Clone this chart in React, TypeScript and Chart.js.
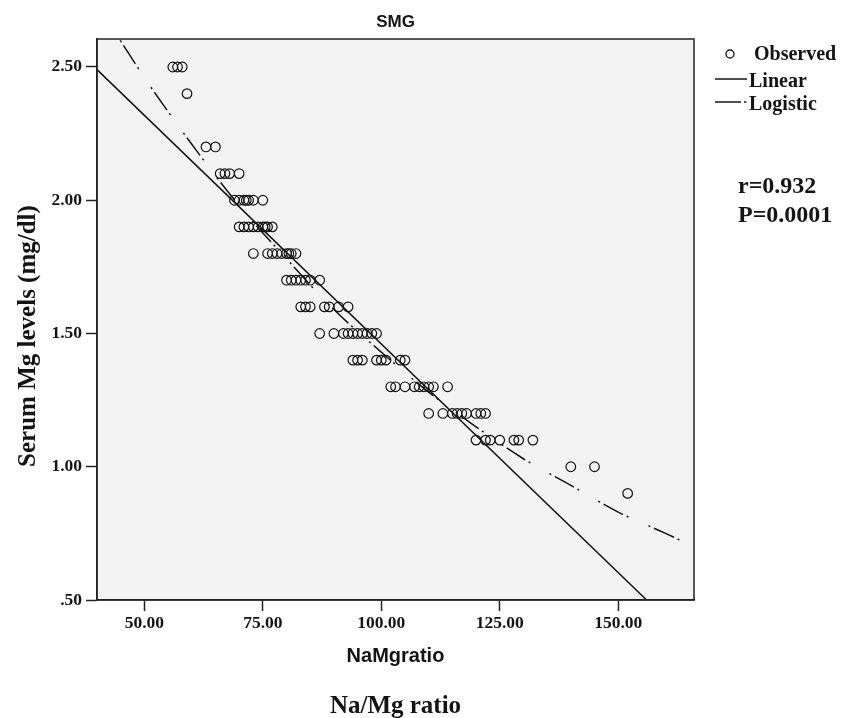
import React, { useEffect, useRef } from "react";
import { Chart, registerables } from "chart.js";

Chart.register(...registerables);

// Observed points: NaMg ratio (x) and serum Mg level (y)
const obsX = [
  56, 57, 58,
  59,
  63, 65,
  66, 67, 68, 70,
  69, 70, 71, 71.5, 72, 73, 75,
  70, 71, 72, 73, 74, 75, 75.5, 76, 77,
  73, 76, 77, 78, 79, 80, 80.5, 81, 82,
  80, 81, 82, 83, 84, 85, 87,
  83, 84, 85, 88, 89, 91, 93,
  87, 90, 92, 93, 94, 95, 96, 97, 98, 99,
  94, 95, 96, 99, 100, 101, 104, 105,
  102, 103, 105, 107, 108, 109, 110, 111, 114,
  110, 113, 115, 116, 117, 118, 120, 121, 122,
  120, 122, 123, 125, 128, 129, 132,
  140, 145,
  152,
];
const obsY = [
  2.5, 2.5, 2.5,
  2.4,
  2.2, 2.2,
  2.1, 2.1, 2.1, 2.1,
  2.0, 2.0, 2.0, 2.0, 2.0, 2.0, 2.0,
  1.9, 1.9, 1.9, 1.9, 1.9, 1.9, 1.9, 1.9, 1.9,
  1.8, 1.8, 1.8, 1.8, 1.8, 1.8, 1.8, 1.8, 1.8,
  1.7, 1.7, 1.7, 1.7, 1.7, 1.7, 1.7,
  1.6, 1.6, 1.6, 1.6, 1.6, 1.6, 1.6,
  1.5, 1.5, 1.5, 1.5, 1.5, 1.5, 1.5, 1.5, 1.5, 1.5,
  1.4, 1.4, 1.4, 1.4, 1.4, 1.4, 1.4, 1.4,
  1.3, 1.3, 1.3, 1.3, 1.3, 1.3, 1.3, 1.3, 1.3,
  1.2, 1.2, 1.2, 1.2, 1.2, 1.2, 1.2, 1.2, 1.2,
  1.1, 1.1, 1.1, 1.1, 1.1, 1.1, 1.1,
  1.0, 1.0,
  0.9,
];

// Linear fit line (end points inside the plot)
const linX = [40, 156];
const linY = [2.49, 0.5];

// Logistic fit curve
const logX = [44.9, 50, 60, 70, 80, 90, 100, 110, 120, 130, 140, 150, 160, 166];
const logY = [2.6, 2.46, 2.21, 1.98, 1.78, 1.59, 1.43, 1.28, 1.15, 1.03, 0.93, 0.83, 0.75, 0.7];

const xTicks = [50, 75, 100, 125, 150];
const yTicks = [0.5, 1.0, 1.5, 2.0, 2.5];

const titleText = "SMG";
const xTitle = "NaMgratio";
const xTitle2 = "Na/Mg ratio";
const yTitle = "Serum Mg levels (mg/dl)";
const legendLabels = ["Observed", "Linear", "Logistic"];
const statLines = ["r=0.932", "P=0.0001"];

const INK = "#141414";
const SERIF = "'Liberation Serif', 'Times New Roman', serif";
const SANS = "'Liberation Sans', Arial, sans-serif";
const LOG_DASH = [2, 4, 22, 4, 2, 22];

const decorPlugin = {
  id: "decor",
  beforeDraw(chart: any) {
    const { ctx, chartArea } = chart;
    const { left, top, right, bottom } = chartArea;
    ctx.save();
    ctx.fillStyle = "#ffffff";
    ctx.fillRect(0, 0, chart.width, chart.height);
    ctx.fillStyle = "#f3f3f3";
    ctx.fillRect(left, top, right - left, bottom - top);
    ctx.restore();
  },
  afterDraw(chart: any) {
    const { ctx, chartArea } = chart;
    const { left, top, right, bottom } = chartArea;
    const cx = (left + right) / 2;
    ctx.save();
    // frame
    ctx.strokeStyle = "#222";
    ctx.lineWidth = 1.5;
    ctx.strokeRect(left, top, right - left, bottom - top);

    ctx.fillStyle = INK;
    ctx.textAlign = "center";
    ctx.textBaseline = "alphabetic";
    // title
    ctx.font = `bold 17px ${SANS}`;
    ctx.fillText(titleText, cx, 27);
    // x titles
    ctx.font = `bold 20px ${SANS}`;
    ctx.fillText(xTitle, cx, 662);
    ctx.font = `bold 25px ${SERIF}`;
    ctx.fillText(xTitle2, cx, 713);
    // y title
    ctx.save();
    ctx.translate(35, 336);
    ctx.rotate(-Math.PI / 2);
    ctx.font = `bold 25px ${SERIF}`;
    ctx.fillText(yTitle, 0, 0);
    ctx.restore();

    // legend
    ctx.textAlign = "left";
    ctx.font = `bold 20px ${SERIF}`;
    ctx.strokeStyle = INK;
    ctx.lineWidth = 1.3;
    ctx.beginPath();
    ctx.arc(730, 54, 4, 0, Math.PI * 2);
    ctx.stroke();
    ctx.fillText(legendLabels[0], 754, 60);

    ctx.lineWidth = 1.5;
    ctx.beginPath();
    ctx.moveTo(715, 79);
    ctx.lineTo(747, 79);
    ctx.stroke();
    ctx.fillText(legendLabels[1], 749, 87);

    ctx.beginPath();
    ctx.moveTo(715, 102);
    ctx.lineTo(741, 102);
    ctx.stroke();
    ctx.beginPath();
    ctx.moveTo(744, 102);
    ctx.lineTo(746.5, 102);
    ctx.stroke();
    ctx.fillText(legendLabels[2], 749, 110);

    // stats
    ctx.font = `bold 24px ${SERIF}`;
    ctx.fillText(statLines[0], 738, 193);
    ctx.fillText(statLines[1], 738, 222);
    ctx.restore();
  },
};

function fmtY(v: number) {
  const s = v.toFixed(2);
  return s.startsWith("0") ? s.slice(1) : s;
}

export default function App() {
  const ref = useRef<HTMLCanvasElement | null>(null);

  useEffect(() => {
    if (!ref.current) return;
    const tickFont = { family: SERIF, weight: "bold" as const, size: 17.5 };
    const chart = new Chart(ref.current, {
      type: "scatter",
      data: {
        datasets: [
          {
            label: "Observed",
            data: obsX.map((x, i) => ({ x, y: obsY[i] })),
            pointStyle: "circle",
            pointRadius: 4.8,
            pointBorderWidth: 1.2,
            pointBorderColor: INK,
            pointBackgroundColor: "rgba(0,0,0,0)",
            showLine: false,
          },
          {
            label: "Linear",
            data: linX.map((x, i) => ({ x, y: linY[i] })),
            showLine: true,
            borderColor: INK,
            borderWidth: 1.5,
            pointRadius: 0,
          },
          {
            label: "Logistic",
            data: logX.map((x, i) => ({ x, y: logY[i] })),
            showLine: true,
            borderColor: INK,
            borderWidth: 1.5,
            borderDash: LOG_DASH,
            cubicInterpolationMode: "monotone",
            pointRadius: 0,
          },
        ],
      },
      options: {
        responsive: false,
        animation: false,
        events: [],
        layout: { padding: { left: 0, top: 39, right: 162, bottom: 0 } },
        plugins: {
          legend: { display: false },
          title: { display: false },
          tooltip: { enabled: false },
        },
        scales: {
          x: {
            type: "linear",
            min: 40,
            max: 166,
            afterFit(scale: any) {
              scale.height = 118;
            },
            afterBuildTicks(scale: any) {
              scale.ticks = xTicks.map((v) => ({ value: v }));
            },
            ticks: {
              color: INK,
              font: tickFont,
              padding: 2,
              maxRotation: 0,
              callback: (v: any) => Number(v).toFixed(2),
            },
            grid: {
              drawOnChartArea: false,
              drawTicks: true,
              tickLength: 11,
              tickColor: "#222",
              tickWidth: 1.5,
            },
            border: { display: true, color: "#222", width: 1.5 },
          },
          y: {
            type: "linear",
            min: 0.5,
            max: 2.605,
            afterFit(scale: any) {
              scale.width = 97;
            },
            afterBuildTicks(scale: any) {
              scale.ticks = yTicks.map((v) => ({ value: v }));
            },
            ticks: {
              color: INK,
              font: tickFont,
              padding: 4,
              callback: (v: any) => fmtY(Number(v)),
            },
            grid: {
              drawOnChartArea: false,
              drawTicks: true,
              tickLength: 11,
              tickColor: "#222",
              tickWidth: 1.5,
            },
            border: { display: true, color: "#222", width: 1.5 },
          },
        },
      },
      plugins: [decorPlugin],
    });
    return () => chart.destroy();
  }, []);

  return (
    <div style={{ position: "fixed", left: 0, top: 0, width: 856, height: 718, background: "#fff" }}>
      <canvas ref={ref} width={856} height={718} style={{ display: "block", width: 856, height: 718 }} />
    </div>
  );
}
